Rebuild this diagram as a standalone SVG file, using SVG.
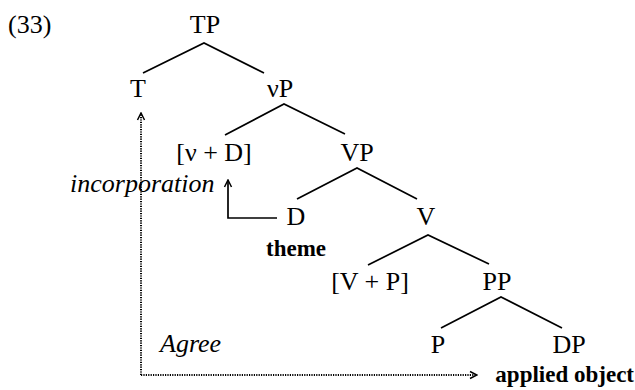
<svg xmlns="http://www.w3.org/2000/svg" width="635" height="390" viewBox="0 0 635 390">
<style>
text{font-family:"Liberation Serif","Times New Roman",serif;fill:#000}
.n{font-size:26px;text-anchor:middle}
.i{font-size:26px;font-style:italic}
.b{font-size:23px;font-weight:bold}
.br{fill:none;stroke:#000;stroke-width:1.7;stroke-linecap:butt}
.mv{fill:none;stroke:#000;stroke-width:1.7}
.dot{fill:none;stroke:#000;stroke-width:2;stroke-dasharray:1.2 1.2}
</style>
<defs>
<marker id="chev" viewBox="0 0 10 10" refX="9" refY="5" markerWidth="10" markerHeight="10" markerUnits="userSpaceOnUse" orient="auto">
<path d="M2,1.5 L9,5 L2,8.5" fill="none" stroke="#000" stroke-width="1.5"/>
</marker>
</defs>
<text x="8" y="33" style="font-size:26px">(33)</text>
<g id="connectors">
<path class="br" d="M143,73 L204,43 L264,73"/>
<path class="br" d="M225,135 L284,104 L345,134"/>
<path class="br" d="M297,199 L357,168 L417,199"/>
<path class="br" d="M368,265 L428,235 L489,264"/>
<path class="br" d="M441,328 L501,297 L562,328"/>
<path class="mv" d="M277,218 H228 V180" marker-end="url(#chev)"/>
<path class="dot" d="M141,375 V113" marker-end="url(#chev)"/>
<path class="dot" d="M141,375 H477" marker-end="url(#chev)"/>
</g>
<g id="TP"><text class="n" x="205" y="33">TP</text></g>
<g id="T"><text class="n" x="138" y="97">T</text></g>
<g id="vP"><text class="n" x="280" y="97">νP</text></g>
<g id="vD"><text class="n" x="214" y="161">[ν + D]</text></g>
<g id="VP"><text class="n" x="357" y="161">VP</text></g>
<g id="D"><text class="n" x="296" y="225">D</text><text class="b" x="296" y="256" text-anchor="middle">theme</text></g>
<g id="V"><text class="n" x="426" y="225">V</text></g>
<g id="VPc"><text class="n" x="370" y="290">[V + P]</text></g>
<g id="PP"><text class="n" x="497" y="290">PP</text></g>
<g id="P"><text class="n" x="438" y="353">P</text></g>
<g id="DP"><text class="n" x="569" y="353">DP</text></g>
<g id="labels">
<text class="i" x="70" y="192">incorporation</text>
<text class="i" x="160" y="352">Agree</text>
<text class="b" x="634" y="382" text-anchor="end">applied object</text>
</g>
</svg>
